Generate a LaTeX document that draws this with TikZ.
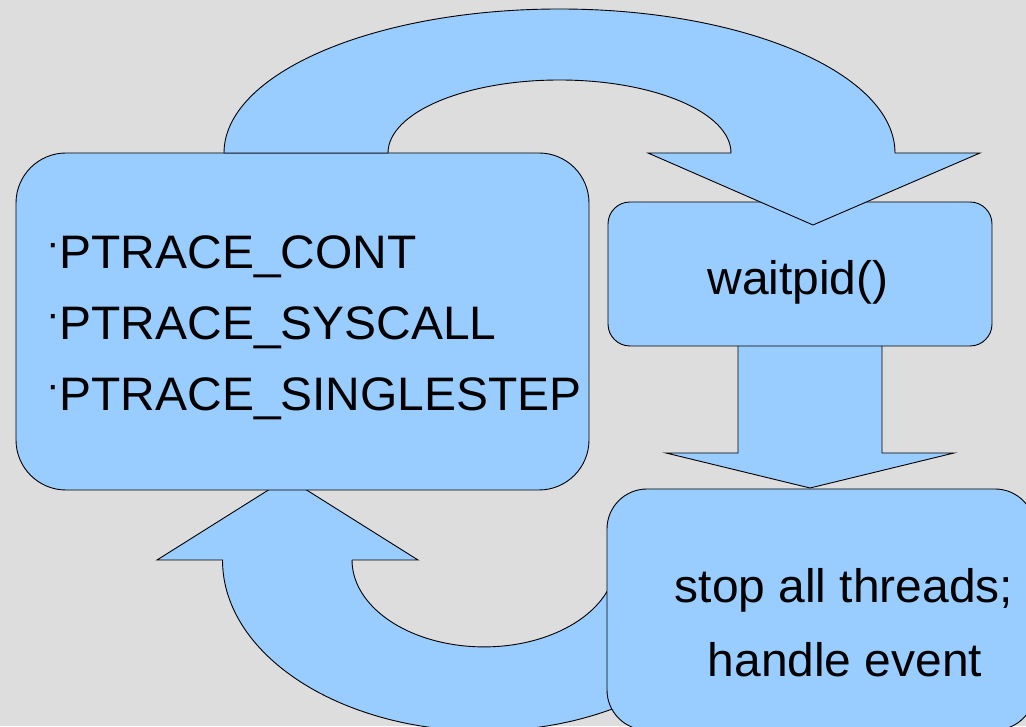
\documentclass[tikz,border=0pt]{standalone}
\usepackage{fontspec}
\setmainfont[FakeStretch=1.02]{Liberation Sans}
\definecolor{bgcol}{RGB}{221,221,221}
\definecolor{bluefill}{RGB}{153,204,255}
\newcommand{\bul}{{\fontsize{40}{40}\selectfont\raisebox{12pt}{·}}}
\begin{document}
\begin{tikzpicture}[x=1pt,y=1pt,
  blueshape/.style={fill=bluefill,draw=black,line width=0.9pt,line join=miter},
  boxnode/.style={blueshape,rectangle,inner sep=0pt,outer sep=0pt},
  txt/.style={inner sep=0pt,outer sep=0pt,font=\fontsize{47}{56}\selectfont}]
\useasboundingbox (0,0) rectangle (1026,726);
\fill[bgcol] (0,0) rectangle (1026,726);
\clip (0,0) rectangle (1026,726);

% bottom curved arrow (back to the left box)
\draw[blueshape] (352,166) -- (418,166) -- (287.5,248) -- (157,166) -- (222.5,166)
  arc[start angle=180,end angle=330,x radius=261.5pt,y radius=171pt]
  -- (614,151)
  arc[start angle=350,end angle=180,x radius=132pt,y radius=87pt] -- cycle;

% straight down arrow
\draw[blueshape] (738,380) -- (738,273) -- (666,273) -- (810,238) -- (954,273) -- (882,273) -- (882,380);

% boxes
\node[boxnode,rounded corners=50pt,minimum width=573pt,minimum height=337pt] (req) at (302.5,404.5) {};
\node[boxnode,rounded corners=22pt,minimum width=384pt,minimum height=144pt] (wait) at (800,452) {};
\node[boxnode,rounded corners=40pt,minimum width=428pt,minimum height=241pt] (stop) at (821,116.5) {};

% top curved arrow
\draw[blueshape] (224,573)
  arc[start angle=180,end angle=0,x radius=335.5pt,y radius=144pt]
  -- (980,573) -- (813,501) -- (648,573) -- (731,573)
  arc[start angle=0,end angle=180,x radius=171.5pt,y radius=73pt] -- cycle;

% texts
\node[txt,anchor=base west] (t1) at (46,457) {\bul PTRACE\_CONT};
\node[txt,anchor=base west] (t2) at (46,386) {\bul PTRACE\_SYSCALL};
\node[txt,anchor=base west] (t3) at (46,315) {\bul PTRACE\_SINGLESTEP};
\node[txt,anchor=base] (tw) at (798,431) {waitpid()};
\node[txt,anchor=base] (ts1) at (844,123) {stop all threads;};
\node[txt,anchor=base] (ts2) at (845,49) {handle event};
\end{tikzpicture}
\end{document}
